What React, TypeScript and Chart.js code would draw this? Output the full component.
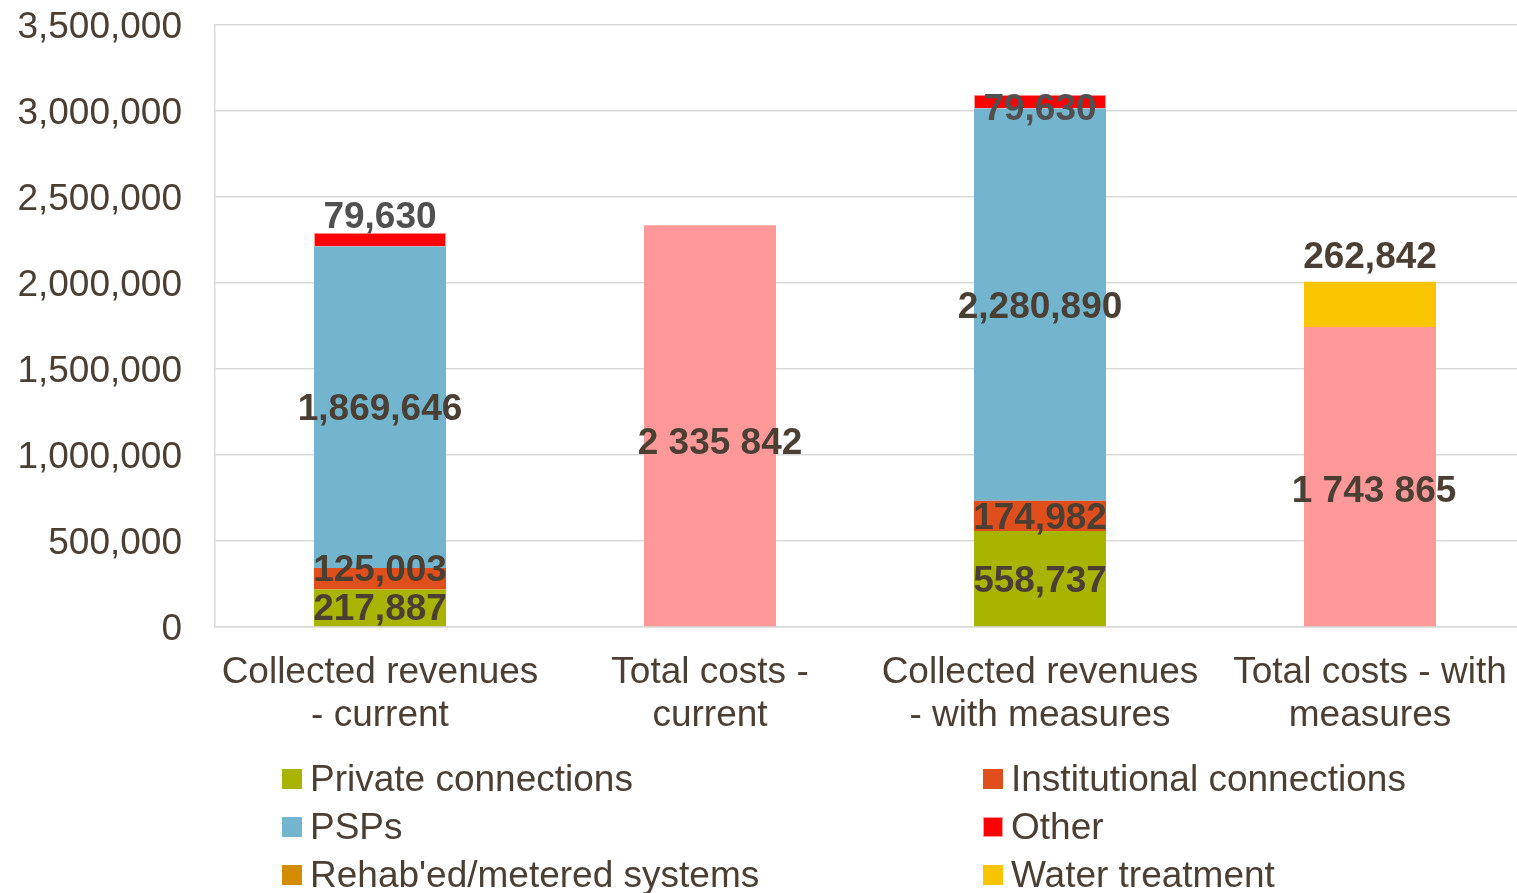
import React, { useEffect, useRef } from 'react';
import { Chart, registerables } from 'chart.js';

Chart.register(...registerables);

const categories: string[][] = [
  ['Collected revenues', '- current'],
  ['Total costs -', 'current'],
  ['Collected revenues', '- with measures'],
  ['Total costs - with', 'measures'],
];

const privateConnections = [217887, null, 558737, null];
const institutionalConnections = [125003, null, 174982, null];
const psps = [1869646, null, 2280890, null];
const other = [79630, null, 79630, null];
const totalCosts = [null, 2335842, null, 1743865];
const rehabMetered = [null, null, null, null];
const waterTreatment = [null, null, null, 262842];

const yMin = 0;
const yMax = 3500000;
const yStep = 500000;

const legendOrder = [
  'Private connections',
  'Institutional connections',
  'PSPs',
  'Other',
  "Rehab'ed/metered systems",
  'Water treatment',
];

const FONT = '"Liberation Sans", Arial, Helvetica, sans-serif';
const FS = 37;
const TEXT = '#4B3F34';
const GRID = '#D9D9D9';

// label placement tweaks (style, not data): anchor & nudges per dataset/bar
type Place = { anchor: ('center' | 'above')[]; dy: number[]; dx?: number[]; color: string; sep: string };
const labelPlacement: Record<string, Place> = {
  'Private connections': { anchor: ['center', 'center', 'center', 'center'], dy: [-1, 0, 0, 0], color: TEXT, sep: ',' },
  'Institutional connections': { anchor: ['center', 'center', 'center', 'center'], dy: [-11, 0, 0, 0], color: TEXT, sep: ',' },
  PSPs: { anchor: ['center', 'center', 'center', 'center'], dy: [0, 0, 0, 0], color: TEXT, sep: ',' },
  Other: { anchor: ['above', 'center', 'center', 'center'], dy: [-18, 0, 5, 0], color: '#505050', sep: ',' },
  'Total costs': { anchor: ['center', 'center', 'center', 'center'], dy: [0, 15, 0, 12], dx: [0, 10, 0, 4], color: TEXT, sep: ' ' },
  "Rehab'ed/metered systems": { anchor: ['center', 'center', 'center', 'center'], dy: [0, 0, 0, 0], color: TEXT, sep: ',' },
  'Water treatment': { anchor: ['center', 'center', 'center', 'above'], dy: [0, 0, 0, -27], color: TEXT, sep: ',' },
};
const TEXT_SHIFT = 3; // visual centring of digits vs canvas 'middle' baseline

function fmt(v: number, sep: string) {
  return Math.round(v).toString().replace(/\B(?=(\d{3})+(?!\d))/g, sep);
}

const valueLabelsPlugin = {
  id: 'valueLabels',
  afterDatasetsDraw(chart: any) {
    const ctx = chart.ctx;
    ctx.save();
    ctx.font = `bold ${FS}px ${FONT}`;
    ctx.textAlign = 'center';
    ctx.textBaseline = 'middle';
    chart.data.datasets.forEach((ds: any, di: number) => {
      const meta = chart.getDatasetMeta(di);
      const place = labelPlacement[ds.label];
      if (!place) return;
      ds.data.forEach((v: number | null, i: number) => {
        if (v == null) return;
        const el = meta.data[i];
        if (!el) return;
        const { x, y, base } = el.getProps(['x', 'y', 'base'], true);
        const top = Math.min(y, base);
        let ly = place.anchor[i] === 'above' ? top : (y + base) / 2;
        ly += place.dy[i] + TEXT_SHIFT;
        const lx = x + (place.dx ? place.dx[i] : 0);
        ctx.fillStyle = place.color;
        ctx.fillText(fmt(v, place.sep), lx, ly);
      });
    });
    ctx.restore();
  },
};

const legendPlugin = {
  id: 'gridLegend',
  afterDraw(chart: any) {
    const ctx = chart.ctx;
    const area = chart.chartArea;
    const colX = [area.left + 67, area.left + 768];
    const rowY = [area.bottom + 152, area.bottom + 200, area.bottom + 248];
    ctx.save();
    ctx.font = `${FS}px ${FONT}`;
    ctx.textAlign = 'left';
    ctx.textBaseline = 'middle';
    legendOrder.forEach((name, k) => {
      const ds = chart.data.datasets.find((d: any) => d.label === name);
      if (!ds) return;
      const cx = colX[k % 2];
      const cy = rowY[Math.floor(k / 2)];
      ctx.fillStyle = ds.backgroundColor;
      ctx.fillRect(cx, cy - 10, 20, 20);
      if (ds.borderWidth) {
        ctx.strokeStyle = ds.borderColor;
        ctx.lineWidth = 1;
        ctx.strokeRect(cx + 0.5, cy - 9.5, 19, 19);
      }
      ctx.fillStyle = TEXT;
      ctx.fillText(name, cx + 28, cy + 2);
    });
    ctx.restore();
  },
};

export default function App() {
  const ref = useRef<HTMLCanvasElement>(null);

  useEffect(() => {
    if (!ref.current) return;
    const chart = new Chart(ref.current, {
      type: 'bar',
      data: {
        labels: categories,
        datasets: [
          { label: 'Private connections', data: privateConnections, backgroundColor: '#A8B400' },
          { label: 'Institutional connections', data: institutionalConnections, backgroundColor: '#E04E1B' },
          { label: 'PSPs', data: psps, backgroundColor: '#73B5CE' },
          { label: 'Other', data: other, backgroundColor: '#FF0000', borderColor: '#FF9A9A', borderWidth: 1 },
          { label: 'Total costs', data: totalCosts, backgroundColor: '#FF9999' },
          { label: "Rehab'ed/metered systems", data: rehabMetered, backgroundColor: '#D38B00' },
          { label: 'Water treatment', data: waterTreatment, backgroundColor: '#F9C400' },
        ] as any,
      },
      options: {
        responsive: false,
        animation: false,
        devicePixelRatio: 1,
        datasets: { bar: { barPercentage: 0.4, categoryPercentage: 1 } },
        layout: { padding: { top: 25, left: 0, right: 10, bottom: 213 } },
        plugins: {
          legend: { display: false },
          tooltip: { enabled: false },
        },
        scales: {
          x: {
            stacked: true,
            grid: { display: false, drawTicks: false },
            border: { display: true, color: GRID, width: 1.5 },
            ticks: {
              color: TEXT,
              font: { family: FONT, size: FS, lineHeight: 1.165 },
              padding: 24,
              maxRotation: 0,
              autoSkip: false,
            },
            afterFit: (s: any) => {
              s.height = 120;
              s.paddingLeft = 0;
              s.paddingRight = 0;
            },
          },
          y: {
            stacked: true,
            min: yMin,
            max: yMax,
            grid: { color: GRID, lineWidth: 1.5, drawTicks: false },
            border: { display: true, color: GRID, width: 1.5 },
            ticks: {
              stepSize: yStep,
              color: TEXT,
              font: { family: FONT, size: FS },
              padding: 33,
              labelOffset: 3,
              callback: (v: any) => fmt(Number(v), ','),
            },
            afterFit: (s: any) => {
              s.width = 215;
              s.paddingTop = 0;
              s.paddingBottom = 0;
            },
          },
        },
      },
      plugins: [valueLabelsPlugin, legendPlugin],
    });
    return () => chart.destroy();
  }, []);

  return (
    <div
      style={{
        position: 'fixed',
        left: 0,
        top: 0,
        width: 1517,
        height: 893,
        overflow: 'hidden',
        background: '#ffffff',
      }}
    >
      <canvas ref={ref} width={1545} height={960} style={{ display: 'block' }} />
    </div>
  );
}
